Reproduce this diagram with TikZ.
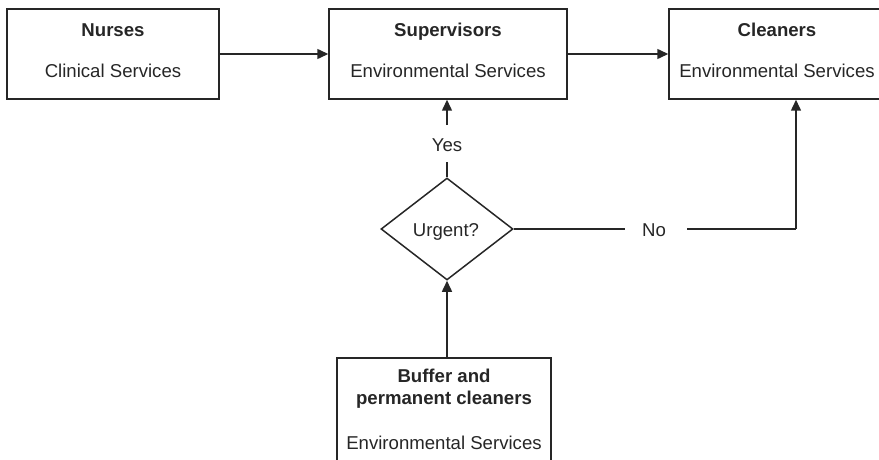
\documentclass[tikz,border=0pt]{standalone}
\usepackage{fontspec}
\setmainfont{Liberation Sans}
\usetikzlibrary{shapes.geometric,arrows.meta}
\definecolor{ink}{HTML}{262626}
\begin{document}
\begin{tikzpicture}[x=1pt,y=-1pt,
  every node/.style={text=ink},
  box/.style={draw=ink,line width=1.5pt,rectangle,inner sep=0pt,minimum height=90pt},
  title/.style={font=\fontsize{18.6}{22}\selectfont\bfseries,inner sep=0pt,anchor=base},
  sub/.style={font=\fontsize{18.6}{22}\selectfont,inner sep=0pt,anchor=base},
  decision/.style={draw=ink,line width=1.5pt,diamond,aspect=1.29,inner sep=0pt,
    minimum width=132pt,minimum height=102pt},
  link/.style={draw=ink,line width=1.5pt},
  arrow/.style={link,-{Triangle[length=11pt,width=10pt]}}]
\useasboundingbox (0,0) rectangle (879,460);
\clip (0,0) rectangle (879,460);
% boxes
\node[box,minimum width=212pt] (nurses) at (113,54) {};
\node[box,minimum width=238pt] (sup) at (448,54) {};
\node[box,minimum width=220pt] (clean) at (779,54) {};
\node[box,minimum width=214pt,minimum height=140pt] (buffer) at (444,428) {};
\node[decision] (urgent) at (447,229) {};
% texts (placed on their baselines)
\node[title] (t1) at (113,36.5) {Nurses};
\node[sub] (s1) at (113,77.5) {Clinical Services};
\node[title] (t2) at (448,36.5) {Supervisors};
\node[sub] (s2) at (448,77.5) {Environmental Services};
\node[title] (t3) at (777,36.5) {Cleaners};
\node[sub] (s3) at (777,77.5) {Environmental Services};
\node[title] (t4) at (444,382) {Buffer and};
\node[title] (t5) at (444,404) {permanent cleaners};
\node[sub] (s4) at (444,449) {Environmental Services};
\node[sub] (u) at (446,236.5) {Urgent?};
\node[sub] (yes) at (447,151) {Yes};
\node[sub] (no) at (654,236.5) {No};
\coordinate (bend) at (796,229);
\coordinate (yestop) at (447,125);
% connectors
\draw[arrow] (nurses.east) -- (sup.west);
\draw[arrow] (sup.east) -- (sup.east -| clean.west);
\draw[link] (urgent.north) -- ++(0,-15);
\draw[arrow] (yestop) -- (yestop |- sup.south);
\draw[link] (urgent.east) -- (625,229);
\draw[link] (687,229) -- (bend);
\draw[arrow] (bend) -- (bend |- clean.south);
\draw[arrow] (buffer.north -| urgent.south) -- (urgent.south);
\end{tikzpicture}
\end{document}
